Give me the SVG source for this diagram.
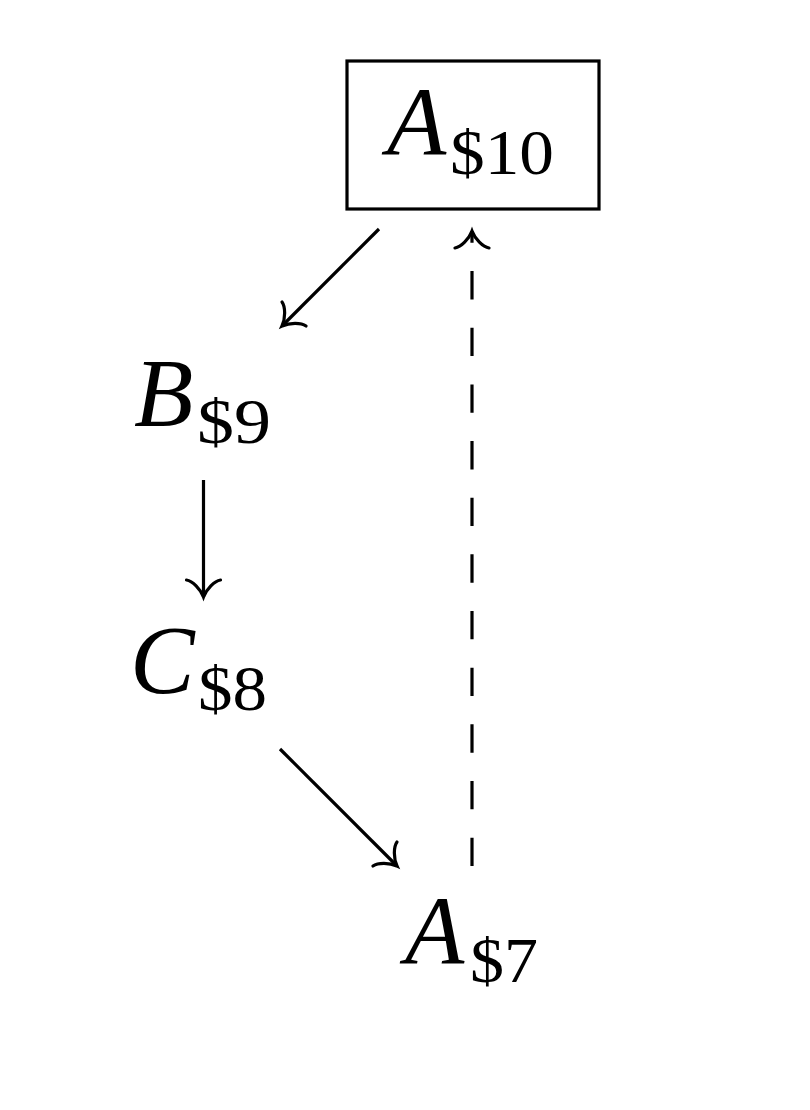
<svg xmlns="http://www.w3.org/2000/svg" width="810" height="1110" viewBox="0 0 810 1110">
<style>
.main{font-family:"Liberation Serif","Times New Roman",serif;font-style:italic;font-size:97px;fill:#000}
.sub{font-family:"Liberation Serif","Times New Roman",serif;font-size:63px;fill:#000}
.edge{stroke:#000;stroke-width:3.2;fill:none}
.dash{stroke-dasharray:28.33 28.33}
.box{stroke:#000;stroke-width:3.2;fill:#fff}
</style>
<defs>
<marker id="arr" markerUnits="userSpaceOnUse" orient="auto" refX="0" refY="0" markerWidth="40" markerHeight="40" viewBox="-20 -20 40 40" overflow="visible">
<path d="M -17,-17 C -16,-11 -8,-3 0,0 C -8,3 -16,11 -17,17" fill="none" stroke="#000" stroke-width="3.2" stroke-linecap="round"/>
</marker>
</defs>
<rect width="810" height="1110" fill="#fff"/>
<g id="connectors">
<path class="edge" d="M 379,229 L 282,326" marker-end="url(#arr)"/>
<path class="edge" d="M 203.5,480 L 203.5,597" marker-end="url(#arr)"/>
<path class="edge" d="M 280,749 L 397,866" marker-end="url(#arr)"/>
<path class="edge dash" d="M 472,866 L 472,231" marker-end="url(#arr)"/>
</g>
<g id="node-A10">
<rect class="box" x="347" y="61" width="252" height="148"/>
<text class="main" x="387" y="154">A</text>
<text class="sub" x="450" y="174" textLength="104" lengthAdjust="spacingAndGlyphs">$10</text>
</g>
<g id="node-B9">
<text class="main" x="134" y="426">B</text>
<text class="sub" x="197" y="443" textLength="74" lengthAdjust="spacingAndGlyphs">$9</text>
</g>
<g id="node-C8">
<text class="main" x="130" y="693">C</text>
<text class="sub" x="198" y="710" textLength="69" lengthAdjust="spacingAndGlyphs">$8</text>
</g>
<g id="node-A7">
<text class="main" x="405" y="963">A</text>
<text class="sub" x="470" y="982" textLength="68" lengthAdjust="spacingAndGlyphs">$7</text>
</g>
</svg>
